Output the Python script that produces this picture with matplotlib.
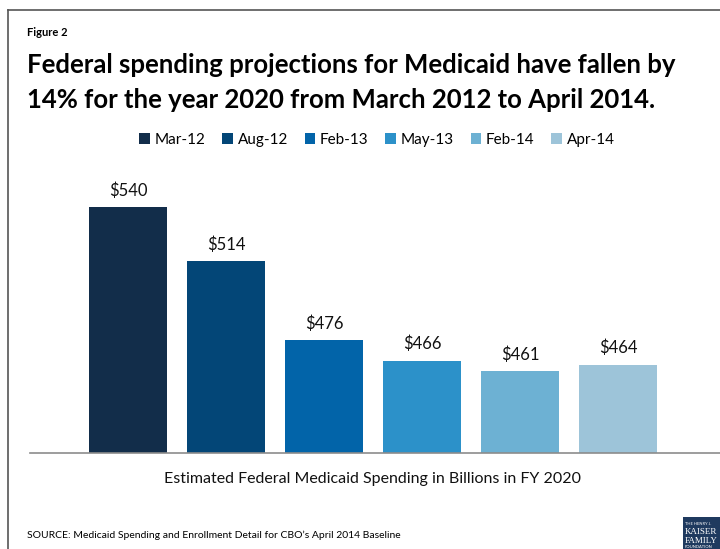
import matplotlib.pyplot as plt
from matplotlib.patches import Patch, Rectangle
from matplotlib.lines import Line2D

plt.rcParams['font.family'] = ['Lato', 'DejaVu Sans']

periods = ['Mar-12', 'Aug-12', 'Feb-13', 'May-13', 'Feb-14', 'Apr-14']
spending = [540, 514, 476, 466, 461, 464]
colors = ['#122d4a', '#034677', '#0264a9', '#2c91c9', '#6db1d3', '#9dc4d9']

W, H = 720, 549
fig = plt.figure(figsize=(W / 100, H / 100), dpi=100)

# axes spans from the left rule to the right edge, baseline at 453px
ax = fig.add_axes([30 / W, 1 - 453 / H, 1 - 30 / W, (453 - 180) / H])
x = range(len(periods))
bars = ax.bar(x, spending, width=0.8, color=colors, zorder=2)
ax.set_xlim(-1, 6.04)
ax.set_ylim(421.5, 553)
for b, v in zip(bars, spending):
    ax.text(b.get_x() + b.get_width() / 2, v + 4, f'${v}', ha='center', va='bottom',
            fontsize=12, color='#111111')

for s in ['top', 'right', 'left']:
    ax.spines[s].set_visible(False)
ax.spines['bottom'].set_color('#8c8c8c')
ax.spines['bottom'].set_linewidth(1.2)
ax.set_xticks([])
ax.set_yticks([])

handles = [Patch(facecolor=c, edgecolor='none') for c in colors]
fig.legend(handles, periods, loc='center', bbox_to_anchor=(377 / W, 1 - 140 / H), ncol=6,
           frameon=False, fontsize=11, handlelength=0.7, handleheight=0.7,
           handletextpad=0.3, columnspacing=1.1)

# page furniture
fig.text(27 / W, 1 - 33 / H, 'Figure 2', fontsize=8, fontweight='bold', va='center')
fig.text(27 / W, 1 - 65 / H, 'Federal spending projections for Medicaid have fallen by',
         fontsize=18.5, fontweight='bold', va='center')
fig.text(27 / W, 1 - 100 / H, '14% for the year 2020 from March 2012 to April 2014.',
         fontsize=18.5, fontweight='bold', va='center')
fig.text(372 / W, 1 - 479 / H, 'Estimated Federal Medicaid Spending in Billions in FY 2020',
         fontsize=11.5, ha='center', va='center', color='#111111')
fig.text(27 / W, 1 - 535 / H,
         'SOURCE: Medicaid Spending and Enrollment Detail for CBO\u2019s April 2014 Baseline',
         fontsize=7.5, va='center')

# outer frame
fig.add_artist(Line2D([8 / W, 8 / W], [0, 1 - 10 / H], color='#555555', lw=1.2))
fig.add_artist(Line2D([8 / W, 1], [1 - 10 / H, 1 - 10 / H], color='#555555', lw=1.2))

# logo block
fig.add_artist(Rectangle((683 / W, 0), 37 / W, 32 / H, facecolor='#1f3a5f',
                         edgecolor='none', transform=fig.transFigure))
fig.text(685 / W, 1 - 524 / H, 'THE HENRY J.', fontsize=3, color='white', va='center')
fig.text(685 / W, 1 - 532 / H, 'KAISER', fontsize=6.5, color='white', va='center',
         family='Liberation Serif')
fig.text(685 / W, 1 - 541 / H, 'FAMILY', fontsize=6.5, color='white', va='center',
         family='Liberation Serif')
fig.text(685 / W, 1 - 547 / H, 'FOUNDATION', fontsize=3, color='white', va='center')

fig.savefig('out.png', dpi=100)
